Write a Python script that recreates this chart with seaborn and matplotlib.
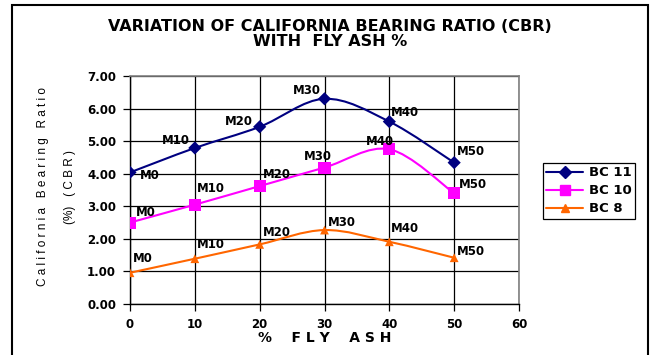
import numpy as np
import pandas as pd
import matplotlib
matplotlib.use("Agg")
import matplotlib.pyplot as plt
from matplotlib.path import Path
from matplotlib.patches import PathPatch, Rectangle
from matplotlib.lines import Line2D
import seaborn as sns

# ---- data ----
fly_ash = [0, 10, 20, 30, 40, 50]
bc11 = [4.04, 4.79, 5.44, 6.30, 5.60, 4.34]
bc10 = [2.50, 3.05, 3.62, 4.19, 4.75, 3.40]
bc8 = [0.96, 1.39, 1.83, 2.27, 1.91, 1.42]
point_labels = ["M0", "M10", "M20", "M30", "M40", "M50"]
series_names = ["BC 11", "BC 10", "BC 8"]
x_ticks = [0, 10, 20, 30, 40, 50, 60]
y_ticks = [0, 1, 2, 3, 4, 5, 6, 7]

# ---- styles ----
colors = {"BC 11": "#000080", "BC 10": "#FF00FF", "BC 8": "#FF6600"}
markers = {"BC 11": "D", "BC 10": "s", "BC 8": "^"}
msizes = {"BC 11": 45, "BC 10": 75, "BC 8": 40}
lmsizes = {"BC 11": 6, "BC 10": 7.5, "BC 8": 5.5}
# label offsets in pixels (dx, dy), text left-aligned, vertically centred
offsets = {
    "BC 11": [(10, -3), (-33, 7), (-35, 5), (-32, 8), (2, 9), (3, 11)],
    "BC 10": [(6, 10), (2, 16), (3, 12), (-21, 11), (-23, 8), (5, 9)],
    "BC 8": [(3, 14), (2, 14), (3, 12), (3, 8), (2, 13), (3, 6)],
}

values = {"BC 11": bc11, "BC 10": bc10, "BC 8": bc8}
df = pd.DataFrame({
    "fly": fly_ash * 3,
    "cbr": bc11 + bc10 + bc8,
    "series": sum([[n] * len(fly_ash) for n in series_names], []),
})

sns.set_style("white")
plt.rcParams["font.family"] = ["DejaVu Sans"]
plt.rcParams["text.color"] = "black"
plt.rcParams["xtick.color"] = "black"
plt.rcParams["ytick.color"] = "black"
plt.rcParams["axes.labelcolor"] = "black"
BOLD = ["DejaVu Sans"]
REG = ["Liberation Sans", "DejaVu Sans"]

fig = plt.figure(figsize=(6.51, 3.55), dpi=100)
W, H = 651, 355
ax = fig.add_axes([130 / W, 1 - 304 / H, (519 - 130) / W, (304 - 76) / H])


def smooth_path(xs, ys):
    pts = np.column_stack([xs, ys]).astype(float)
    n = len(pts)
    verts = [pts[0]]
    codes = [Path.MOVETO]
    for i in range(n - 1):
        p0 = pts[i - 1] if i > 0 else pts[i]
        p1 = pts[i]
        p2 = pts[i + 1]
        p3 = pts[i + 2] if i + 2 < n else pts[i + 1]
        c1 = p1 + (p2 - p0) / 6.0
        c2 = p2 - (p3 - p1) / 6.0
        verts += [c1, c2, p2]
        codes += [Path.CURVE4] * 3
    return Path(verts, codes)


for name in series_names:
    ax.add_patch(PathPatch(smooth_path(fly_ash, values[name]), fill=False,
                           edgecolor=colors[name], lw=1.5, zorder=3))

sns.scatterplot(data=df, x="fly", y="cbr", hue="series", style="series",
                palette=colors, markers=markers, size="series",
                sizes=msizes, edgecolor="none", legend=False, ax=ax, zorder=4)

for name in series_names:
    for xv, yv, lab, (dx, dy) in zip(fly_ash, values[name], point_labels, offsets[name]):
        ax.annotate(lab, (xv, yv), xytext=(dx, dy), textcoords="offset pixels",
                    ha="left", va="center", fontsize=8.5, fontweight="bold",
                    family=BOLD, color="black", zorder=5)

ax.set_xlim(0, 60)
ax.set_ylim(0, 7)
ax.set_xticks(x_ticks)
ax.set_yticks(y_ticks)
ax.set_xticklabels([str(t) for t in x_ticks], fontsize=8.5, fontweight="bold")
ax.set_yticklabels([f"{t:.2f}" for t in y_ticks], fontsize=8.5, fontweight="bold")
ax.grid(True, color="black", lw=0.9)
ax.set_axisbelow(True)
ax.tick_params(axis="both", direction="out", length=5, width=0.9, color="black",
               labelcolor="black", left=True, bottom=True)
ax.tick_params(axis="y", pad=5)
ax.tick_params(axis="x", pad=5)
for s in ["left", "bottom"]:
    ax.spines[s].set_color("black")
    ax.spines[s].set_linewidth(1.0)
for s in ["top", "right"]:
    ax.spines[s].set_color("#808080")
    ax.spines[s].set_linewidth(1.2)
ax.set_xlabel("")
ax.set_ylabel("")

handles = [Line2D([0], [0], color=colors[n], marker=markers[n], lw=1.5,
                  markersize=lmsizes[n], markeredgecolor=colors[n]) for n in series_names]
leg = fig.legend(handles, series_names, loc="upper left",
                 bbox_to_anchor=(543 / W, 1 - 163 / H), frameon=True,
                 fancybox=False, edgecolor="black", framealpha=1,
                 prop={"size": 9.5, "weight": "bold", "family": BOLD},
                 handlelength=2.8, borderpad=0.25, labelspacing=0.38,
                 handletextpad=0.4, borderaxespad=0)
leg.get_frame().set_linewidth(0.9)
for t in leg.get_texts():
    t.set_color("black")

fig.text(330 / W, 1 - 26.5 / H, "VARIATION OF CALIFORNIA BEARING RATIO (CBR)",
         ha="center", va="center", fontsize=11.5, fontweight="bold", family=BOLD)
fig.text(330 / W, 1 - 42 / H, "WITH  FLY ASH %",
         ha="center", va="center", fontsize=11.5, fontweight="bold", family=BOLD)

fig.text(325 / W, 1 - 338 / H, "%    F L Y    A S H", ha="center", va="center",
         fontsize=10, fontweight="bold", family=BOLD)
fig.text(43 / W, 1 - 187 / H, "C a l i f o r n i a   B e a r i n g   R a t i o",
         ha="center", va="center", rotation=90, fontsize=8.5, family=REG)
fig.text(70 / W, 1 - 187 / H, "(%)   ( C B R )",
         ha="center", va="center", rotation=90, fontsize=8.5, family=REG)

fig.add_artist(Rectangle((12 / W, -0.02), (648 - 12) / W, (355 - 5) / H + 0.02,
                         transform=fig.transFigure, fill=False,
                         edgecolor="black", lw=1.5))

fig.savefig("out.png", dpi=100)
